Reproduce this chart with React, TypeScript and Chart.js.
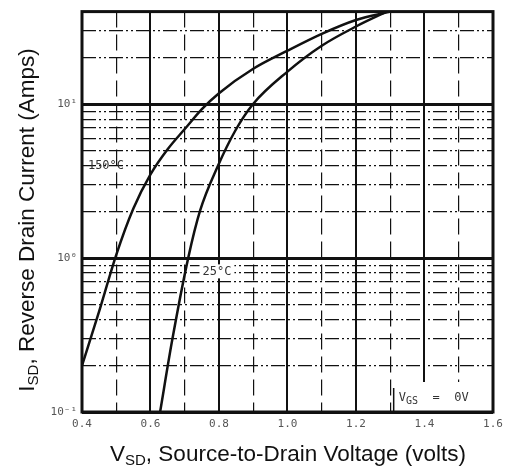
import React, { useEffect, useRef } from 'react';
import { Chart, registerables } from 'chart.js';
Chart.register(...registerables);

// ---- data ----
const xTicks = [0.4, 0.5, 0.6, 0.7, 0.8, 0.9, 1.0, 1.1, 1.2, 1.3, 1.4, 1.5, 1.6];
const xMajor = [0.4, 0.6, 0.8, 1.0, 1.2, 1.4, 1.6];
const xTickLabels = ['0.4', '0.6', '0.8', '1.0', '1.2', '1.4', '1.6'];
const yTicks = [0.1, 0.2, 0.3, 0.4, 0.5, 0.6, 0.7, 0.8, 0.9, 1, 2, 3, 4, 5, 6, 7, 8, 9, 10, 20, 30, 40];
const yMajor = [0.1, 1, 10];
const yTickLabels = ['10\u207B\u00B9', '10\u2070', '10\u00B9'];

const vsd150 = [0.40, 0.45, 0.50, 0.55, 0.60, 0.65, 0.70, 0.75, 0.80, 0.90, 1.00, 1.10, 1.20, 1.30];
const isd150 = [0.20, 0.45, 1.05, 2.1, 3.5, 5.1, 6.9, 9.3, 11.8, 17.0, 22.3, 28.7, 35.3, 40];
const vsd25 = [0.628, 0.663, 0.71, 0.745, 0.797, 0.847, 0.899, 1.0, 1.1, 1.2, 1.29];
const isd25 = [0.1, 0.29, 1.0, 2.04, 3.98, 6.7, 10, 16.3, 24, 32, 40];

const near = (a: number, b: number) => Math.abs(a - b) < 1e-6;
const isMajorX = (v: number) => xMajor.some((m) => near(m, v));
const isMajorY = (v: number) => yMajor.some((m) => near(m, v));

const INK = '#111';

const overlay = {
  id: 'overlay',
  afterDraw(chart: any) {
    const ctx = chart.ctx as CanvasRenderingContext2D;
    const { left, right, top, bottom } = chart.chartArea;
    const xs = chart.scales.x;
    const ys = chart.scales.y;
    ctx.save();

    // VGS box
    const bx = xs.getPixelForValue(1.31);
    ctx.fillStyle = '#fff';
    ctx.fillRect(bx, bottom - 30, right - bx, 30);
    ctx.strokeStyle = INK;
    ctx.lineWidth = 1.5;
    ctx.beginPath();
    ctx.moveTo(bx, bottom - 24);
    ctx.lineTo(bx, bottom);
    ctx.stroke();

    // frame
    ctx.lineWidth = 3;
    ctx.strokeRect(left, top, right - left, bottom - top);

    // annotations
    ctx.fillStyle = '#333';
    ctx.font = '12px "DejaVu Sans Mono"';
    ctx.textBaseline = 'middle';
    // VGS = 0V
    let tx = xs.getPixelForValue(1.325);
    const ty = bottom - 14;
    ctx.textAlign = 'left';
    ctx.fillText('V', tx, ty);
    tx += ctx.measureText('V').width;
    ctx.font = '10px "DejaVu Sans Mono"';
    ctx.fillText('GS', tx, ty + 3);
    tx += ctx.measureText('GS').width;
    ctx.font = '12px "DejaVu Sans Mono"';
    ctx.fillText('  =  0V', tx, ty);

    // 150°C
    ctx.textAlign = 'center';
    ctx.fillText('150\u00B0C', xs.getPixelForValue(0.47), ys.getPixelForValue(4.0));

    // 25°C
    const p25x = xs.getPixelForValue(0.794);
    const p25y = ys.getPixelForValue(0.82);
    const w25 = ctx.measureText('25\u00B0C').width;
    ctx.fillStyle = '#fff';
    ctx.fillRect(p25x - w25 / 2 - 3, p25y - 7, w25 + 6, 14);
    ctx.fillStyle = '#333';
    ctx.fillText('25\u00B0C', p25x, p25y);

    // x title
    ctx.fillStyle = '#111';
    const big = '22.5px "Liberation Sans", Arial, sans-serif';
    const small = '15px "Liberation Sans", Arial, sans-serif';
    const rest = ', Source-to-Drain Voltage (volts)';
    ctx.font = big;
    const wV = ctx.measureText('V').width;
    const wR = ctx.measureText(rest).width;
    ctx.font = small;
    const wS = ctx.measureText('SD').width;
    const total = wV + wS + wR;
    let cx = 288 - total / 2;
    const base = 461;
    ctx.textAlign = 'left';
    ctx.textBaseline = 'alphabetic';
    ctx.font = big;
    ctx.fillText('V', cx, base);
    cx += wV;
    ctx.font = small;
    ctx.fillText('SD', cx, base + 4);
    cx += wS;
    ctx.font = big;
    ctx.fillText(rest, cx, base);

    // y title
    ctx.save();
    ctx.translate(34, 220);
    ctx.rotate(-Math.PI / 2);
    const restY = ', Reverse Drain Current (Amps)';
    ctx.font = big;
    const wI = ctx.measureText('I').width;
    const wRY = ctx.measureText(restY).width;
    ctx.font = small;
    const wSY = ctx.measureText('SD').width;
    let ry = -(wI + wSY + wRY) / 2;
    ctx.font = big;
    ctx.fillText('I', ry, 0);
    ry += wI;
    ctx.font = small;
    ctx.fillText('SD', ry, 4);
    ry += wSY;
    ctx.font = big;
    ctx.fillText(restY, ry, 0);
    ctx.restore();

    ctx.restore();
  },
};

export default function App() {
  const ref = useRef<HTMLCanvasElement>(null);
  useEffect(() => {
    document.body.style.margin = '0';
    const chart = new Chart(ref.current as HTMLCanvasElement, {
      type: 'line',
      data: {
        datasets: [
          {
            label: '150°C',
            data: vsd150.map((x, i) => ({ x, y: isd150[i] })),
            borderColor: INK,
            borderWidth: 2.5,
            pointRadius: 0,
            cubicInterpolationMode: 'monotone',
            fill: false,
          },
          {
            label: '25°C',
            data: vsd25.map((x, i) => ({ x, y: isd25[i] })),
            borderColor: INK,
            borderWidth: 2.5,
            pointRadius: 0,
            cubicInterpolationMode: 'monotone',
            fill: false,
          },
        ],
      },
      options: {
        animation: false,
        responsive: false,
        layout: { padding: { left: 0, right: 19, top: 11, bottom: 0 } },
        plugins: { legend: { display: false }, tooltip: { enabled: false } },
        scales: {
          x: {
            type: 'linear',
            min: 0.4,
            max: 1.6,
            afterBuildTicks: (s: any) => {
              s.ticks = xTicks.map((v) => ({ value: v }));
            },
            afterFit: (s: any) => {
              s.height = 58;
            },
            ticks: {
              autoSkip: false,
              maxRotation: 0,
              padding: 6,
              color: '#555',
              font: { family: '"DejaVu Sans Mono"', size: 11 },
              callback: (v: any) => {
                const i = xMajor.findIndex((m) => near(m, Number(v)));
                return i >= 0 ? xTickLabels[i] : '';
              },
            },
            grid: {
              drawTicks: false,
              color: INK,
              lineWidth: (c: any) => (c.tick && isMajorX(c.tick.value) ? 2 : 1.2),
            },
            border: {
              display: false,
              dash: (c: any) => (c.tick && isMajorX(c.tick.value) ? [] : [16, 7]),
            },
          },
          y: {
            type: 'logarithmic',
            min: 0.1,
            max: 40,
            afterBuildTicks: (s: any) => {
              s.ticks = yTicks.map((v) => ({ value: v }));
            },
            afterFit: (s: any) => {
              s.width = 82;
            },
            ticks: {
              autoSkip: false,
              padding: 5,
              color: '#555',
              font: { family: '"DejaVu Sans Mono"', size: 11 },
              callback: (v: any) => {
                const i = yMajor.findIndex((m) => near(m, Number(v)));
                return i >= 0 ? yTickLabels[i] : '';
              },
            },
            grid: {
              drawTicks: false,
              color: INK,
              lineWidth: (c: any) => (c.tick && isMajorY(c.tick.value) ? 3 : 1.2),
            },
            border: {
              display: false,
              dash: (c: any) => (c.tick && isMajorY(c.tick.value) ? [] : [14, 3, 2, 3, 2, 3]),
            },
          },
        },
      },
      plugins: [overlay],
    } as any);
    return () => chart.destroy();
  }, []);
  return <canvas ref={ref} width={512} height={470} style={{ display: 'block' }} />;
}
